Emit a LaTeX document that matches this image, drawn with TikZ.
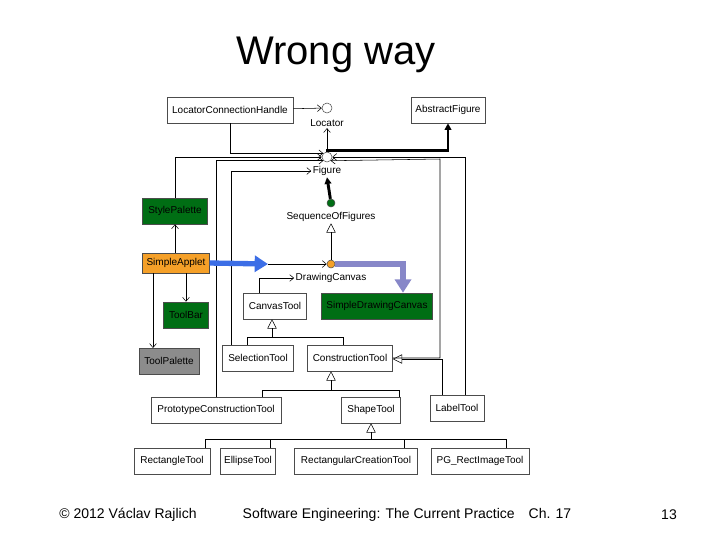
\documentclass[tikz,border=0pt]{standalone}
\usepackage{fontspec}
\setmainfont{Liberation Sans}
\usetikzlibrary{arrows.meta,positioning}
\definecolor{dgreen}{RGB}{0,110,20}
\definecolor{orng}{RGB}{245,160,40}
\definecolor{bblue}{RGB}{60,110,230}
\definecolor{lpurp}{RGB}{135,135,200}
\begin{document}
\begin{tikzpicture}
	[x=0.75pt,y=-0.75pt,font=\fontsize{7.5}{8.5}\selectfont,
	box/.style={rectangle,draw=black!70,fill=white,inner sep=0pt,minimum height=19.5pt},
	gbox/.style={box,fill=dgreen},
	dot/.style={circle,draw=black!70,inner sep=0pt,minimum size=7.5pt},
	lbl/.style={inner sep=1pt},
	assoc/.style={-{Straight Barb[length=3pt,width=5pt]}},
	gen/.style={-{Triangle[open,length=7pt,width=7pt]}},
	agg/.style={line width=2.2pt,-{Triangle[length=5pt,width=5pt]}}]
	\useasboundingbox (0,0) rectangle (720,540);
	\node at (336,55) {\fontsize{30}{34}\selectfont Wrong way};

	% classes
	\node [box,minimum width=94.5pt] (lch) at (230,110) {LocatorConnectionHandle};
	\node [box,minimum width=55.5pt] (abs) at (448,110) {AbstractFigure};
	\node [dot,fill=white] (loc) at (327,108) {};
	\node [lbl] (locl) at (327,123) {Locator};
	\node [dot,fill=white] (fig) at (327,157) {};
	\node [lbl] (figl) at (327,171) {Figure};
	\node [gbox,minimum width=48.75pt] (sp) at (175,211) {StylePalette};
	\node [dot,fill=dgreen,minimum size=6pt] (seq) at (331,203) {};
	\node [lbl] (seql) at (331,217) {SequenceOfFigures};
	\node [box,fill=orng,minimum width=50pt,minimum height=15pt] (app) at (176,263) {SimpleApplet};
	\node [dot,fill=orng,minimum size=6pt] (dc) at (331,264) {};
	\node [lbl] (dcl) at (331,278) {DrawingCanvas};
	\node [gbox,minimum width=33.75pt] (tb) at (186,315) {ToolBar};
	\node [box,minimum width=47.25pt] (ct) at (275,306) {CanvasTool};
	\node [gbox,minimum width=83.25pt] (sdc) at (377,306) {SimpleDrawingCanvas};
	\node [box,fill=black!45,minimum width=45pt] (tp) at (169,361) {ToolPalette};
	\node [box,minimum width=53.25pt] (sel) at (258,358) {SelectionTool};
	\node [box,minimum width=63.75pt] (con) at (350,358) {ConstructionTool};
	\node [box,minimum width=97.5pt] (pro) at (216,410) {PrototypeConstructionTool};
	\node [box,minimum width=44.25pt] (sha) at (371,410) {ShapeTool};
	\node [box,minimum width=40.5pt] (lab) at (457,408) {LabelTool};
	\node [box,minimum width=57pt] (rec) at (172,461) {RectangleTool};
	\node [box,minimum width=41.25pt] (ell) at (248,461) {EllipseTool};
	\node [box,minimum width=92.25pt] (rcr) at (356,461) {RectangularCreationTool};
	\node [box,minimum width=73.5pt] (pg) at (480,461) {PG\_RectImageTool};

	% associations
	\draw [assoc] (lch) -- (loc);
	\draw [assoc] (lch.south) |- (fig.north west);
	\draw [agg] (fig.north) -- ++(0,-1) -| (abs.south);
	\draw [assoc] (fig) -- (locl.south);
	\draw [assoc] (sp.north) |- (fig.west);
	\draw [assoc] (lab.45) ++(-5,0) |- (fig.east);
	\draw [assoc] (pro.north) |- (fig.south west);
	\draw [assoc] (con.east) -| (440,159) -- (fig.south east);
	\draw [assoc] (sel.north) ++(-27,0) |- (figl.west);
	\draw [agg] (seq) -- (figl.south);
	\draw [gen] (dc) -- (seql.south);
	\draw [line width=4pt,bblue,-{Triangle[length=10pt,width=12pt]}] (app.east) -- (268,264);
	\draw [assoc] (268,264) -- (dc);
	\draw [assoc] (ct.north) ++(-16,0) |- (dcl.west);
	\draw [line width=4pt,lpurp,-{Triangle[length=10pt,width=12pt]}] (dc) -| (sdc.north -| 403,0);
	\draw [assoc] (sp.south |- app.north) -- (sp.south);
	\draw [assoc] (app.south -| tb.north) -- (tb.north);
	\draw [assoc] (app.south -| 153,0) -- (153,348);

	% generalizations
	\draw (sel.north) ++(-11,0) |- (343,337) -- (con.north -| 343,0);
	\draw [gen] (272,337) -- (ct.south -| 272,0);
	\draw (pro.north -| 262,0) |- (399,390) -- (sha.north -| 399,0);
	\draw [gen] (331,390) -- (con.south -| 331,0);
	\draw [gen] (lab.north -| 442,0) |- (con.east |- 0,359);
	\draw (rec.north -| 205,0) |- (506,439) -- (pg.north -| 506,0);
	\draw (ell.north -| 270,0) -- (270,439);
	\draw (rcr.north -| 404,0) -- (404,439);
	\draw [gen] (371,439) -- (sha.south -| 371,0);

	% footer
	\node at (128,515) {\fontsize{10.5}{12}\selectfont © 2012 Václav Rajlich};
	\node at (407,515) {\fontsize{10.5}{12}\selectfont Software Engineering: The Current Practice\quad Ch. 17};
	\node at (669,515) {\fontsize{10.5}{12}\selectfont 13};
\end{tikzpicture}
\end{document}
